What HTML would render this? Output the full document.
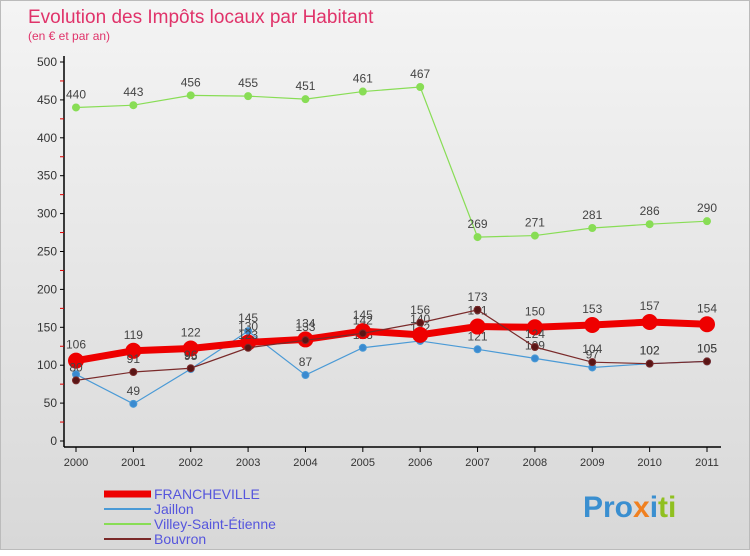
<!DOCTYPE html>
<html><head><meta charset="utf-8"><style>
body{margin:0;width:750px;height:550px;overflow:hidden;font-family:"Liberation Sans",sans-serif}
#c{position:absolute;left:0;top:0;width:748px;height:548px;border:1px solid #bbb;background:linear-gradient(#f4f4f4,#d8d8d8)}
</style></head><body>
<div id="c">
<svg id="s" width="750" height="550">
<text x="27" y="22" font-size="19" fill="#e0336a">Evolution des Impôts locaux par Habitant</text>
<text x="27" y="39" font-size="12" fill="#e0336a">(en € et par an)</text>
<g id="axes"></g><g id="series"></g><g id="legend"></g>
<text x="582" y="516" font-size="30" font-weight="bold" fill="#3a8fd0">Pro<tspan fill="#f08020">x</tspan><tspan fill="#3a8fd0">i</tspan><tspan fill="#90c020">ti</tspan></text>
</svg></div>
<script>
const years=[2000,2001,2002,2003,2004,2005,2006,2007,2008,2009,2010,2011];
const yTicks=[0,50,100,150,200,250,300,350,400,450,500];
const francheville=[106,119,122,130,134,145,140,151,150,153,157,154];
const jaillon=[88,49,95,145,87,123,132,121,109,97,102,105];
const villey=[440,443,456,455,451,461,467,269,271,281,286,290];
const bouvron=[80,91,96,123,133,142,156,173,124,104,102,105];
const NS="http://www.w3.org/2000/svg";
const X=i=>75+i*(706-75)/11, Y=v=>440-v*(440-61)/500;
function mk(p,t,a){const e=document.createElementNS(NS,t);for(const k in a)e.setAttribute(k,a[k]);p.appendChild(e);return e;}
const ax=document.getElementById('axes');
let l=mk(ax,'line',{x1:63,y1:55,x2:63,y2:446,stroke:'#000','stroke-width':1.5});

l=mk(ax,'line',{x1:63,y1:446,x2:720,y2:446,stroke:'#000','stroke-width':1.5});

const yMax=yTicks[yTicks.length-1];
yTicks.forEach(v=>{mk(ax,'line',{x1:59,x2:63,y1:Y(v),y2:Y(v),stroke:'#000'});
 if(v<yMax)mk(ax,'line',{x1:59,x2:63,y1:Y(v+25),y2:Y(v+25),stroke:'#d00'});
 const t=mk(ax,'text',{x:56,y:Y(v)+4,'font-size':12,'text-anchor':'end',fill:'#333'});t.textContent=v;
 });
years.forEach((y,i)=>{mk(ax,'line',{x1:X(i),x2:X(i),y1:446,y2:451,stroke:'#000'});
 const t=mk(ax,'text',{x:X(i),y:465,'font-size':11,'text-anchor':'middle',fill:'#333'});t.textContent=y;
 });
const sg=document.getElementById('series');
function draw(name,data,color,w,r,fill){
 const g=mk(sg,'g',{});
 const p=mk(g,'polyline',{points:data.map((v,i)=>X(i)+','+Y(v)).join(' '),fill:'none',stroke:color,'stroke-width':w});
 
 data.forEach((v,i)=>{const c=mk(g,'circle',{cx:X(i),cy:Y(v),r:r,fill:fill,stroke:color,'stroke-width':1});
  
  const t=mk(g,'text',{x:X(i),y:Y(v)-9-(r>5?3:0),'font-size':12,'text-anchor':'middle',fill:'#444'});t.textContent=v;
  });
}
draw('villey',villey,'#88dd55',1.2,3.5,'#88dd55');
draw('jaillon',jaillon,'#4a9ad6',1.2,3.5,'#3a8ad0');
draw('francheville',francheville,'#ee0000',7,7.5,'#ee0000');
draw('bouvron',bouvron,'#7a2a2a',1.2,3.5,'#5a1515');
const lg=document.getElementById('legend');
[['FRANCHEVILLE','#ee0000',7],['Jaillon','#4a9ad6',2],['Villey-Saint-Étienne','#88dd55',2],['Bouvron','#7a2a2a',2]].forEach((d,i)=>{
 const y=493+i*15;
 const ln=mk(lg,'line',{x1:103,x2:150,y1:y,y2:y,stroke:d[1],'stroke-width':d[2]});
 
 const t=mk(lg,'text',{x:153,y:y+5,'font-size':14,fill:'#5555dd'});t.textContent=d[0];
 });
</script></body></html>
